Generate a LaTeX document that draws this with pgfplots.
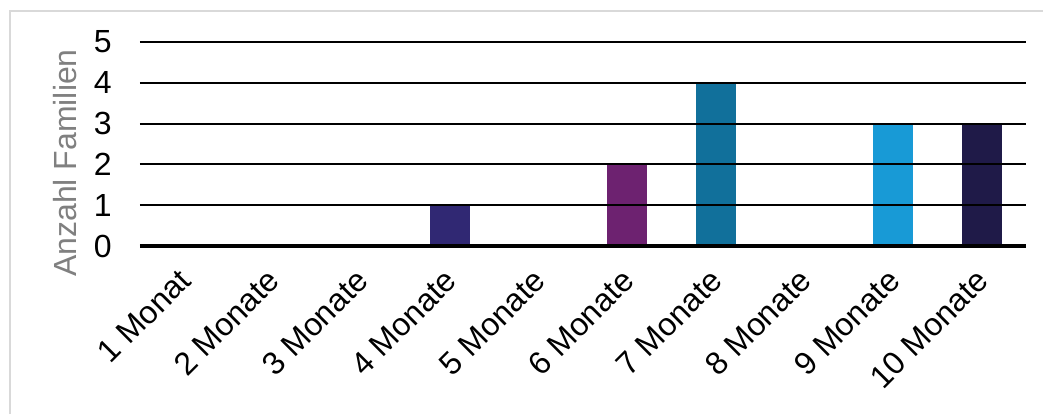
\documentclass[border=0pt]{standalone}
\usepackage{pgfplots}
\pgfplotsset{compat=1.18}
\usepackage{fontspec}
\setmainfont{Liberation Sans}
\definecolor{c4}{HTML}{302873}
\definecolor{c6}{HTML}{6D2270}
\definecolor{c7}{HTML}{11709B}
\definecolor{c9}{HTML}{189AD6}
\definecolor{c10}{HTML}{1F1A48}
\definecolor{framec}{HTML}{D9D9D9}
\definecolor{labc}{HTML}{808080}
\begin{document}
\begin{tikzpicture}
\path[use as bounding box] (0,0) rectangle (521.5pt,207pt);
\draw[framec, line width=0.9pt] (5pt,0pt) -- (5pt,201.5pt) -- (521.5pt,201.5pt);
\begin{axis}[
  at={(70pt,84pt)}, anchor=south west,
  scale only axis, width=443pt, height=102pt,
  xmin=0.5, xmax=10.5, ymin=0, ymax=5,
  ytick={0,1,2,3,4,5},
  xtick={1,2,3,4,5,6,7,8,9,10},
  xticklabels={1 Monat,2 Monate,3 Monate,4 Monate,5 Monate,6 Monate,7 Monate,8 Monate,9 Monate,10 Monate},
  major tick length=0pt,
  axis line style={draw=none},
  ymajorgrids, grid style={black, line width=1pt},
  extra y ticks={0}, extra y tick labels={},
  extra y tick style={grid style={black, line width=2pt}},
  axis on top,
  ybar, bar width=20pt, bar shift=0pt,
  tick label style={font=\fontsize{16}{18}\selectfont},
  yticklabel style={anchor=east, inner sep=0pt, xshift=-14pt},
  xticklabel style={anchor=east, inner sep=0pt, xshift=0.5pt, yshift=-14.5pt, rotate=45},
  ylabel={Anzahl Familien},
  ylabel style={font=\fontsize{16}{18}\selectfont, text=labc, at={(axis description cs:-0.0848,0.407)}, anchor=center, rotate=0},
  /pgf/number format/assume math mode=true,
]
\addplot[fill=c4, draw=none] coordinates {(1,0)};
\addplot[fill=c4, draw=none] coordinates {(2,0)};
\addplot[fill=c4, draw=none] coordinates {(3,0)};
\addplot[fill=c4, draw=none] coordinates {(4,1)};
\addplot[fill=c6, draw=none] coordinates {(5,0)};
\addplot[fill=c6, draw=none] coordinates {(6,2)};
\addplot[fill=c7, draw=none] coordinates {(7,4)};
\addplot[fill=c7, draw=none] coordinates {(8,0)};
\addplot[fill=c9, draw=none] coordinates {(9,3)};
\addplot[fill=c10, draw=none] coordinates {(10,3)};
\end{axis}
\end{tikzpicture}
\end{document}
